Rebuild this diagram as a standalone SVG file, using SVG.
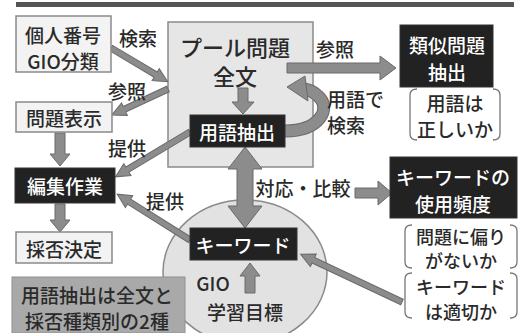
<svg xmlns="http://www.w3.org/2000/svg" width="519" height="333" viewBox="0 0 519 333">
<style>
text{font-family:"Noto Sans CJK JP","Noto Sans",sans-serif;font-size:19px;font-weight:500;fill:#2a2a2a;text-anchor:middle;dominant-baseline:central}
.w{fill:#fff}
.big{font-size:22px}
.sm{font-size:18px}
.lt{fill:#f3f3f3;stroke:#8a8a8a;stroke-width:1.5}
.dk{fill:#222;stroke:#333;stroke-width:1}
.ar{fill:#8c8c8c;stroke:#6a6a6a;stroke-width:1}
.br{fill:none;stroke:#777;stroke-width:1.3}
</style>
<rect width="519" height="333" fill="#fff"/>
<rect x="16" y="2" width="498" height="5" fill="#555"/>

<g id="bubble">
<ellipse cx="245" cy="272" rx="82" ry="72" fill="#e2e2e2" stroke="#8a8a8a" stroke-width="1.5"/>
</g>

<g id="pool">
<rect x="168" y="22" width="145" height="145" fill="#e6e6e6" stroke="#8a8a8a" stroke-width="1.5"/>
<text class="big" x="235" y="46">プール問題</text>
<text class="big" x="235" y="75">全文</text>
</g>

<g id="connectors">
<polygon class="ar" transform="translate(111,48) rotate(30.8)" points="0,-3 52,-3 52,-7 66,0 52,7 52,3 0,3"/>
<polygon class="ar" transform="translate(168,89) rotate(155.1)" points="0,-3 48,-3 48,-7 62,0 48,7 48,3 0,3"/>
<polygon class="ar" transform="translate(190,132) rotate(149)" points="0,-3 73,-3 73,-7 87,0 73,7 73,3 0,3"/>
<polygon class="ar" transform="translate(190,240) rotate(212.2)" points="0,-3 72,-3 72,-7 86,0 72,7 72,3 0,3"/>
<polygon class="ar" transform="translate(402,302) rotate(205.2)" points="0,-3 98,-3 98,-7 112,0 98,7 98,3 0,3"/>
<polygon class="ar" points="287,63 380,63 380,56 396,68 380,80 380,73 287,73"/>
<polygon class="ar" points="355,188 378,188 378,181 392,193 378,205 378,198 355,198"/>
<polygon class="ar" points="55,133 65,133 65,154 70,154 60,166 50,154 55,154"/>
<polygon class="ar" points="55,204 65,204 65,220 70,220 60,232 50,220 55,220"/>
<polygon class="ar" points="238,88 248,88 248,102 254,102 243,114 232,102 238,102"/>
<polygon class="ar" points="245,293 255,293 255,276 260,276 250,263 240,276 245,276"/>
<polygon class="ar" points="245,147 262,169 253,169 253,206 262,206 245,228 228,206 237,206 237,169 228,169"/>
<path d="M285,131 C320,131 332,108 318,96 C314,92 310,90 304,89" fill="none" stroke="#6a6a6a" stroke-width="13"/>
<path d="M285,131 C320,131 332,108 318,96 C314,92 310,90 304,89" fill="none" stroke="#8c8c8c" stroke-width="11"/>
<polygon class="ar" points="287,87 305,76 308,101"/>
</g>

<g id="n-kojin">
<rect class="lt" x="16" y="16" width="95" height="56"/>
<text x="63" y="34">個人番号</text>
<text x="63" y="60">GIO分類</text>
</g>
<g id="n-mondai">
<rect class="lt" x="16" y="102" width="96" height="30"/>
<text x="64" y="117">問題表示</text>
</g>
<g id="n-henshu">
<rect class="dk" x="15" y="168" width="100" height="35"/>
<text class="w" x="65" y="185">編集作業</text>
</g>
<g id="n-saihi">
<rect class="lt" x="16" y="232" width="96" height="31"/>
<text x="64" y="248">採否決定</text>
</g>
<g id="n-yougo">
<rect class="dk" x="190" y="115" width="95" height="32"/>
<text class="w" x="237" y="131">用語抽出</text>
</g>
<g id="n-ruiji">
<rect class="dk" x="400" y="25" width="93" height="62"/>
<text class="w" x="447" y="44">類似問題</text>
<text class="w" x="447" y="71">抽出</text>
</g>
<g id="n-tadashii">
<path class="br" d="M417,89 Q410,89 410,95 L410,134 Q410,140 417,140"/>
<path class="br" d="M493,89 Q500,89 500,95 L500,134 Q500,140 493,140"/>
<text x="455" y="102">用語は</text>
<text x="455" y="128">正しいか</text>
</g>
<g id="n-hindo">
<rect class="dk" x="390" y="157" width="127" height="61"/>
<text class="w" x="453" y="176">キーワードの</text>
<text class="w" x="453" y="203">使用頻度</text>
</g>
<g id="n-katayori">
<path class="br" d="M412,225 Q405,225 405,231 L405,262 Q405,268 412,268"/>
<path class="br" d="M510,225 Q517,225 517,231 L517,262 Q517,268 510,268"/>
<text class="sm" x="461" y="236">問題に偏り</text>
<text class="sm" x="461" y="260">がないか</text>
</g>
<g id="n-tekisetsu">
<path class="br" d="M412,273 Q405,273 405,279 L405,312 Q405,318 412,318"/>
<path class="br" d="M510,273 Q517,273 517,279 L517,312 Q517,318 510,318"/>
<text class="sm" x="461" y="286">キーワード</text>
<text class="sm" x="461" y="311">は適切か</text>
</g>
<g id="n-keyword">
<rect class="dk" x="190" y="228" width="107" height="32"/>
<text class="w" x="243" y="244">キーワード</text>
</g>
<g id="n-gio">
<text x="213" y="282">GIO</text>
<text x="245" y="311">学習目標</text>
</g>
<g id="n-note">
<rect x="12" y="277" width="173" height="56" fill="#a9a9a9" stroke="#909090" stroke-width="1"/>
<text x="97" y="294">用語抽出は全文と</text>
<text x="97" y="320">採否種類別の2種</text>
</g>

<g id="labels">
<text x="138" y="37">検索</text>
<text x="127" y="90">参照</text>
<text x="127" y="147">提供</text>
<text x="335" y="48">参照</text>
<text x="327" y="98" style="text-anchor:start">用語で</text>
<text x="327" y="124" style="text-anchor:start">検索</text>
<text x="303" y="187">対応・比較</text>
<text x="165" y="200">提供</text>
</g>
</svg>
